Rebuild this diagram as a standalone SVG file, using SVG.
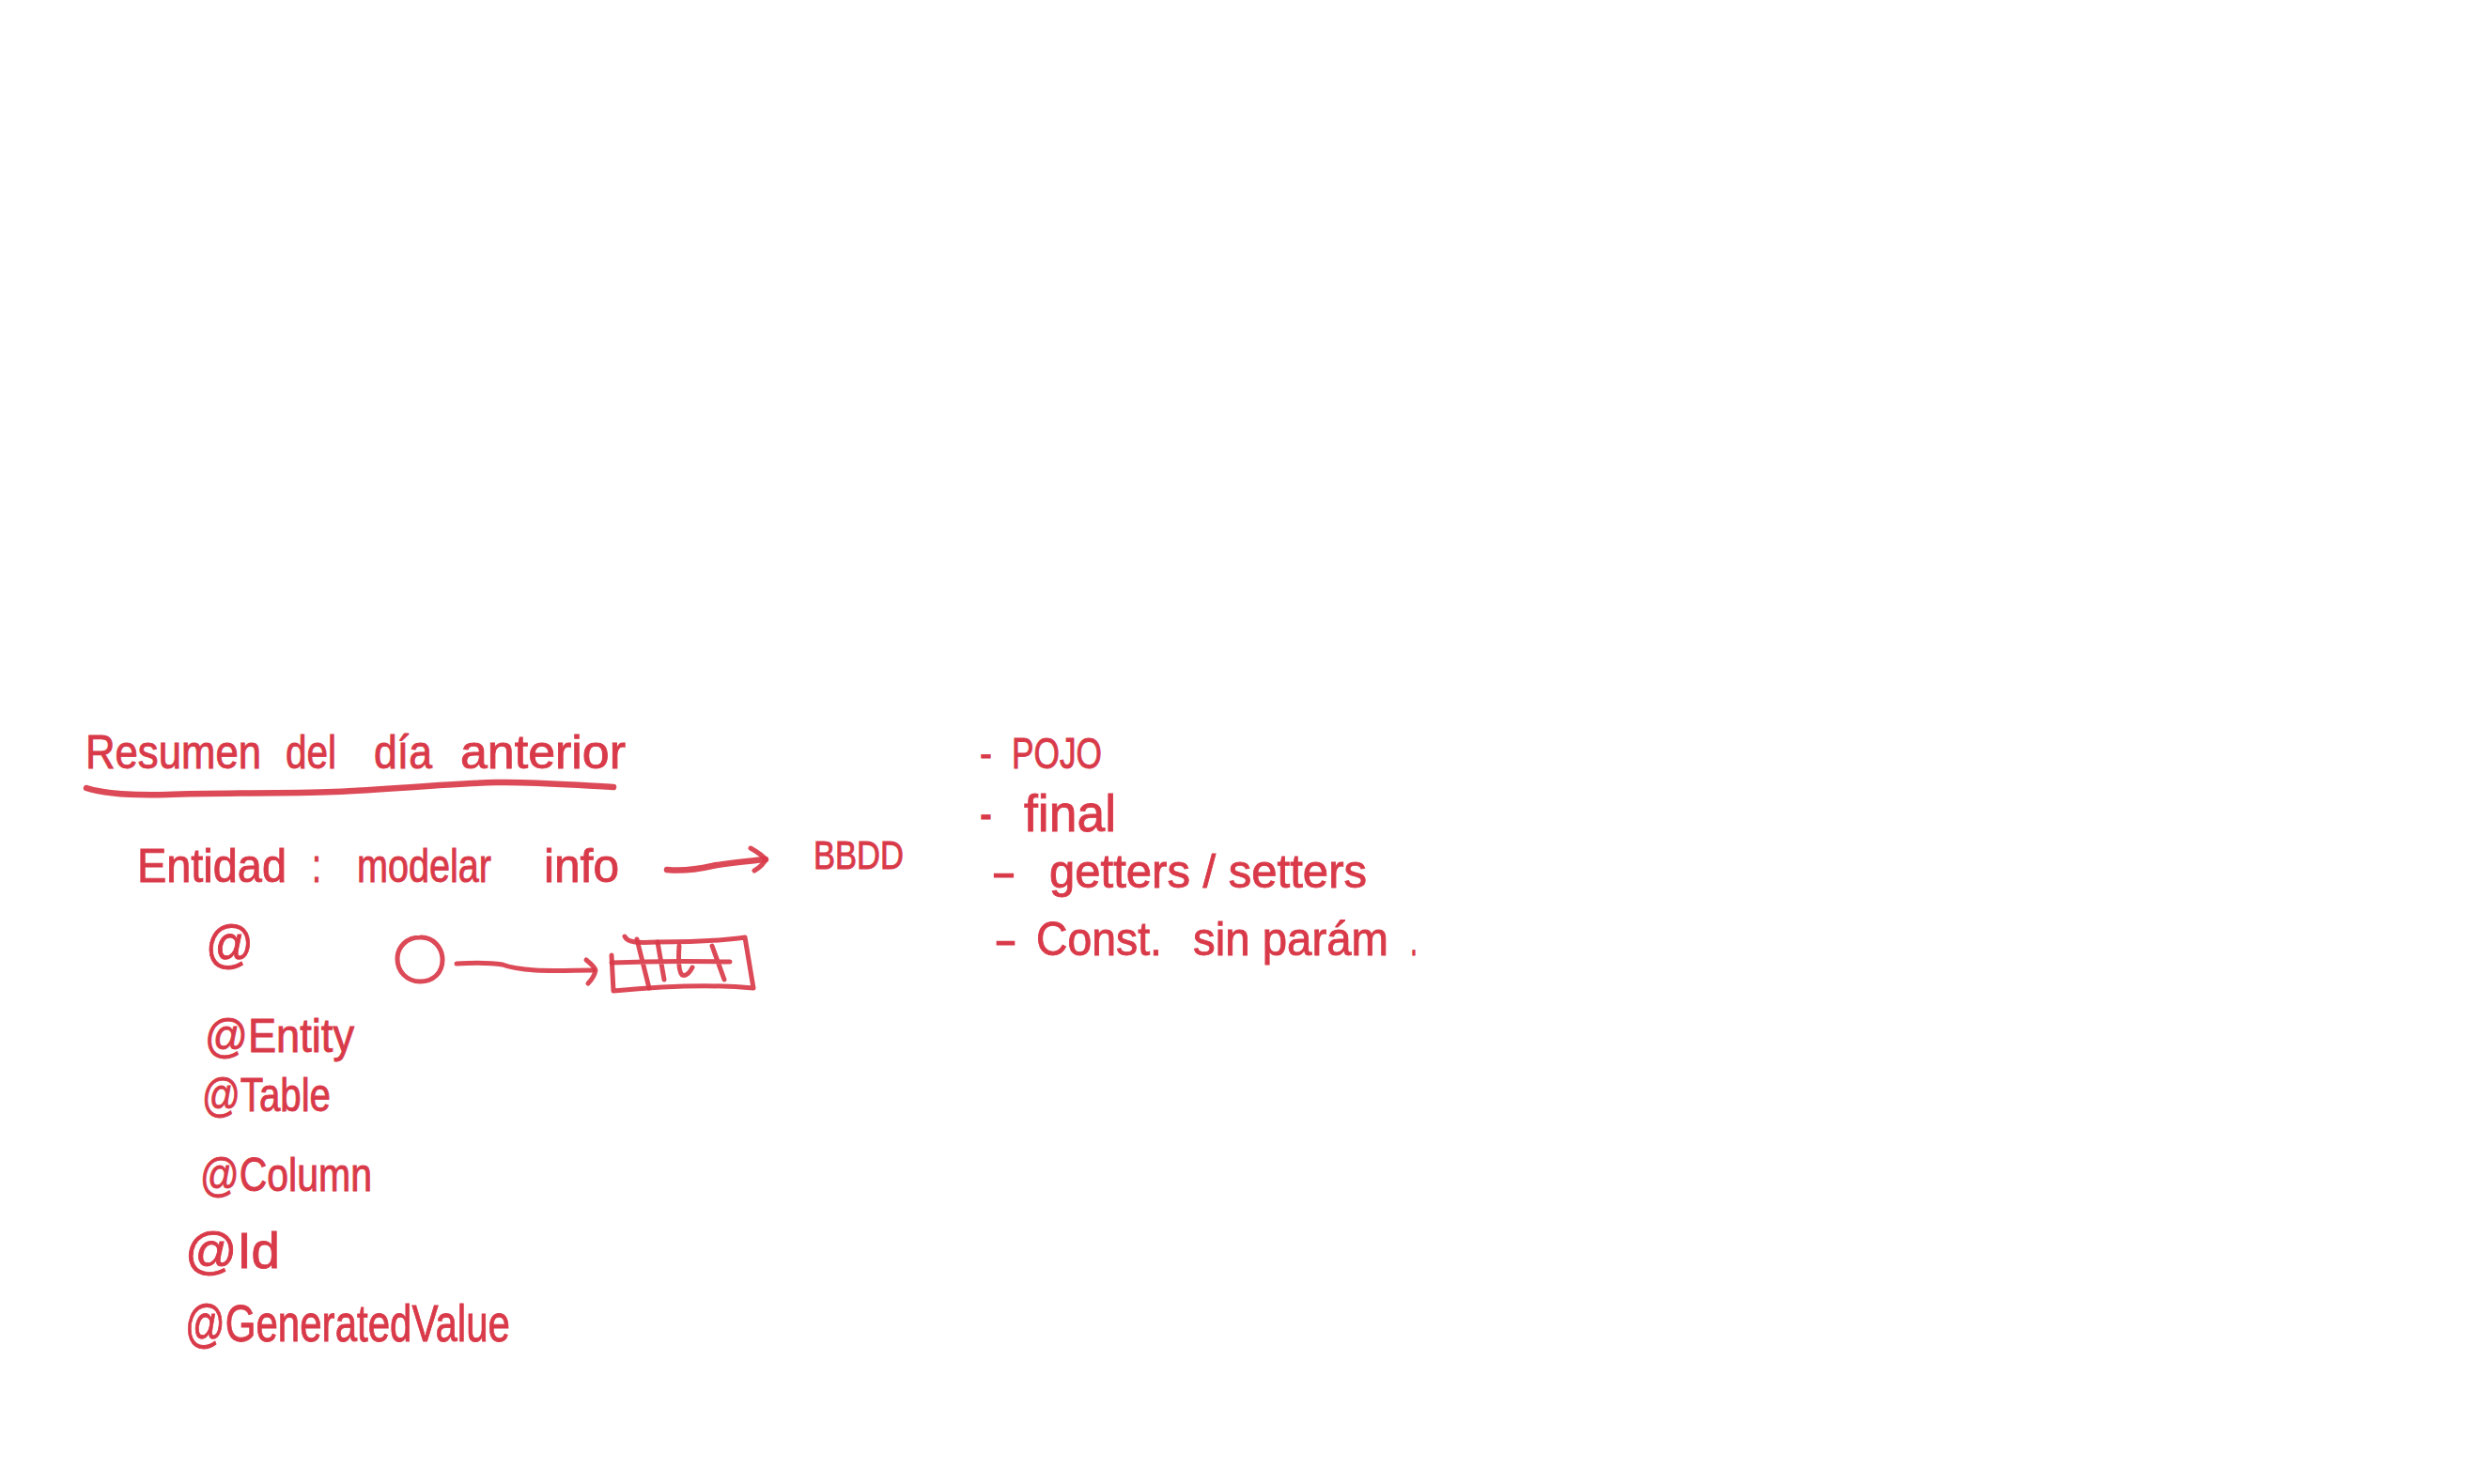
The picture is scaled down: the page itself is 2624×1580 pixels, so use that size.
<svg xmlns="http://www.w3.org/2000/svg" width="2624" height="1580" viewBox="0 0 2624 1580">
<style>
text{font-family:"Liberation Sans",Arial,sans-serif;fill:#d93a49;stroke:#d93a49;stroke-width:.9;font-size:50px}
.ink{fill:none;stroke:#d93a49;stroke-width:5;stroke-linecap:round;stroke-linejoin:round;opacity:.92}
.thick{stroke-width:6.5}
</style>
<rect width="2624" height="1580" fill="#ffffff"/>
<g id="connectors">
<g id="arrow-info-bbdd"><path class="ink thick" d="M710 926C730 928 745 925 758 922C778 918 795 917 815 915"/><path class="ink" d="M799 903C806 907 812 911 815 915C813 920 808 924 803 927"/></g>
<g id="arrow-object-table"><path class="ink" d="M486 1026C505 1025 522 1025 535 1027C545 1031 555 1032 570 1033C590 1034 612 1033 632 1033"/><path class="ink" d="M624 1022C629 1026 633 1030 634 1033C633 1038 630 1043 626 1047"/></g>
</g>
<g id="title">
<text y="818"><tspan x="91" textLength="187" lengthAdjust="spacingAndGlyphs">Resumen</tspan><tspan> </tspan><tspan x="304" textLength="54" lengthAdjust="spacingAndGlyphs">del</tspan><tspan> </tspan><tspan x="398" textLength="62" lengthAdjust="spacingAndGlyphs">día</tspan><tspan> </tspan><tspan x="490" textLength="176" lengthAdjust="spacingAndGlyphs">anterior</tspan></text>
<path class="ink thick" d="M92 839C110 845 145 847 178 846C235 844 300 845 356 843C420 840 470 835 528 833C570 832 610 836 653 838"/>
</g>
<g id="entidad">
<text y="939"><tspan x="146" textLength="159" lengthAdjust="spacingAndGlyphs">Entidad</tspan><tspan> </tspan><tspan x="332" textLength="10" lengthAdjust="spacingAndGlyphs">:</tspan><tspan> </tspan><tspan x="380" textLength="143" lengthAdjust="spacingAndGlyphs">modelar</tspan><tspan> </tspan><tspan x="579" textLength="80" lengthAdjust="spacingAndGlyphs">info</tspan></text>
</g>
<g id="bbdd"><text x="866" y="925" style="font-size:42px" textLength="96" lengthAdjust="spacingAndGlyphs">BBDD</text></g>
<g id="at"><text x="219" y="1024" style="font-size:56px" textLength="51" lengthAdjust="spacingAndGlyphs">@</text></g>
<g id="object"><path class="ink" d="M447 998C461 997 471 1009 471 1022C471 1036 461 1045 447 1045C433 1045 423 1034 423 1021C423 1008 433 998 447 998Z"/></g>
<g id="table">
<path class="ink" d="M665 997C668 1004 680 1004 700 1003C735 1003 765 1002 793 998L802 1052C760 1048 705 1050 653 1055L651 1017"/>
<path class="ink" d="M651 1025C695 1023 735 1023 777 1024M678 1000L691 1052M700 1003L707 1043M723 1007C722 1022 722 1034 726 1038C731 1040 735 1034 737 1030M758 1007L771 1043"/>
</g>
<g id="annotations">
<g id="a-entity"><text y="1120"><tspan x="218" textLength="159" lengthAdjust="spacingAndGlyphs">@Entity</tspan></text></g>
<g id="a-table"><text y="1183"><tspan x="215" textLength="137" lengthAdjust="spacingAndGlyphs">@Table</tspan></text></g>
<g id="a-column"><text y="1268"><tspan x="213" textLength="183" lengthAdjust="spacingAndGlyphs">@Column</tspan></text></g>
<g id="a-id"><text y="1350" style="font-size:54px"><tspan x="197" textLength="101" lengthAdjust="spacingAndGlyphs">@Id</tspan></text></g>
<g id="a-generated"><text y="1428" style="font-size:56px"><tspan x="197" textLength="346" lengthAdjust="spacingAndGlyphs">@GeneratedValue</tspan></text></g>
</g>
<g id="requirements">
<g id="r-pojo"><text y="818" style="font-size:46px"><tspan x="1043" textLength="13" lengthAdjust="spacingAndGlyphs">-</tspan><tspan> </tspan><tspan x="1077" textLength="96" lengthAdjust="spacingAndGlyphs">POJO</tspan></text></g>
<g id="r-final"><text y="885" style="font-size:56px"><tspan x="1043" textLength="13" lengthAdjust="spacingAndGlyphs">-</tspan><tspan> </tspan><tspan x="1090" textLength="98" lengthAdjust="spacingAndGlyphs">final</tspan></text></g>
<g id="r-getters"><text y="945"><tspan x="1055" textLength="27" lengthAdjust="spacingAndGlyphs">-</tspan><tspan> </tspan><tspan x="1117" textLength="338" lengthAdjust="spacingAndGlyphs">getters / setters</tspan></text></g>
<g id="r-const"><text y="1017"><tspan x="1058" textLength="25" lengthAdjust="spacingAndGlyphs">-</tspan><tspan> </tspan><tspan x="1103" textLength="134" lengthAdjust="spacingAndGlyphs">Const.</tspan><tspan> </tspan><tspan x="1270" textLength="208" lengthAdjust="spacingAndGlyphs">sin parám</tspan><tspan> </tspan><tspan x="1501" textLength="8" lengthAdjust="spacingAndGlyphs">.</tspan></text></g>
</g>
</svg>
